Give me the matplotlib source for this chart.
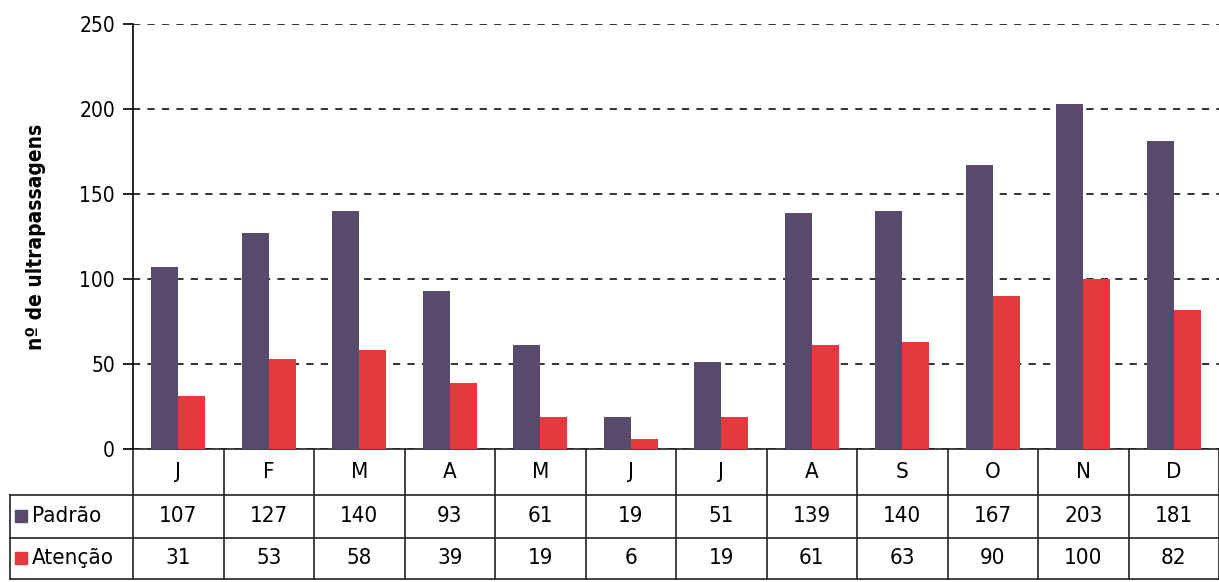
import matplotlib.pyplot as plt
import numpy as np

plt.rcParams['font.family'] = ['DejaVu Sans']
plt.rcParams['font.stretch'] = 'condensed'

months = ['J', 'F', 'M', 'A', 'M', 'J', 'J', 'A', 'S', 'O', 'N', 'D']
padrao = [107, 127, 140, 93, 61, 19, 51, 139, 140, 167, 203, 181]
atencao = [31, 53, 58, 39, 19, 6, 19, 61, 63, 90, 100, 82]
series_names = ['Padrão', 'Atenção']
colors = ['#574a6b', '#e5393e']

fig = plt.figure(figsize=(12.19, 5.82), dpi=100)
ax = fig.add_axes([133 / 1219, 133 / 582, 1086 / 1219, 425 / 582])

x = np.arange(len(months))
w = 0.3
ax.bar(x - w / 2, padrao, width=w, color=colors[0], zorder=3)
ax.bar(x + w / 2, atencao, width=w, color=colors[1], zorder=3)

ax.set_xlim(-0.5, 11.5)
ax.set_ylim(0, 250)
ax.set_yticks([0, 50, 100, 150, 200, 250])
ax.yaxis.grid(True, linestyle=(0, (4, 4)), color='#222222', linewidth=1.3, zorder=0)
for s in ['top', 'right', 'bottom']:
    ax.spines[s].set_visible(False)
ax.spines['left'].set_linewidth(1.2)
ax.tick_params(axis='y', length=7, width=1.2, labelsize=15, pad=6)
ax.set_xticks([])
ax.set_ylabel('nº de ultrapassagens', fontsize=15, fontweight='bold', labelpad=24)

# table under the axis
k = dict(color='#222222', linewidth=1.2, clip_on=False)
rows = [0, -0.108, -0.209, -0.306]
left = -0.5 - 123 / 90.5
trans = ax.get_xaxis_transform()
ax.plot([-0.5 - 9 / 90.5, 11.5], [0, 0], transform=trans, **k)
for r in rows[1:]:
    ax.plot([left, 11.5], [r, r], transform=trans, **k)
ax.plot([left, left], [rows[1], rows[3]], transform=trans, **k)
for i in range(len(months) + 1):
    ax.plot([i - 0.5, i - 0.5], [0, rows[3]], transform=trans, **k)

for i, m in enumerate(months):
    ax.text(i, (rows[0] + rows[1]) / 2, m, transform=trans, ha='center', va='center', fontsize=16)
    ax.text(i, (rows[1] + rows[2]) / 2, str(padrao[i]), transform=trans, ha='center', va='center', fontsize=16)
    ax.text(i, (rows[2] + rows[3]) / 2, str(atencao[i]), transform=trans, ha='center', va='center', fontsize=16)

for j, name in enumerate(series_names):
    yc = (rows[j + 1] + rows[j + 2]) / 2
    ax.plot([left + 0.12], [yc], marker='s', markersize=9, color=colors[j],
            transform=trans, clip_on=False)
    ax.text(left + 0.24, yc, name, transform=trans, ha='left', va='center', fontsize=16)

fig.savefig('out.png', dpi=100)
